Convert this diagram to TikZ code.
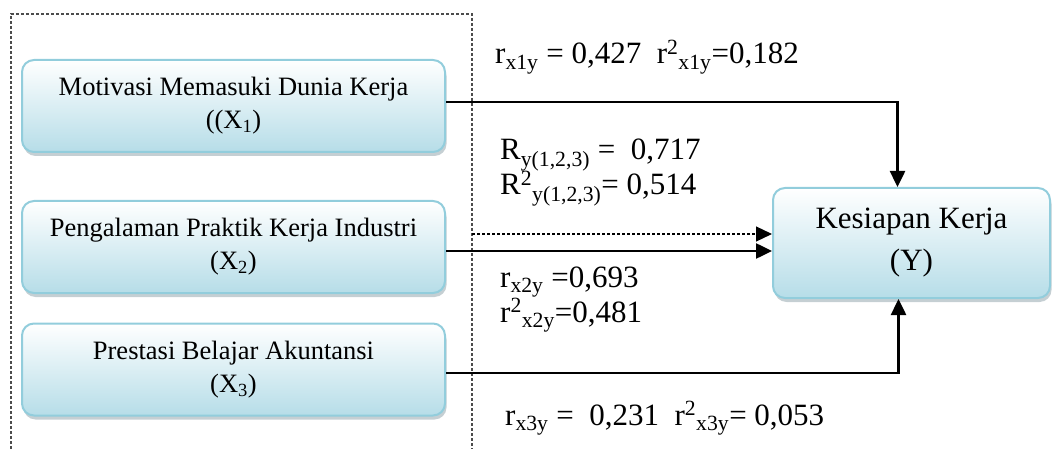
\documentclass[tikz,border=0pt]{standalone}
\usepackage{fontspec}
\setmainfont{Liberation Serif}
\usetikzlibrary{arrows.meta,shadows}
\definecolor{boxedge}{RGB}{146,205,220}
\definecolor{boxfill}{RGB}{182,221,232}
\definecolor{boxshade}{RGB}{140,160,168}

\begin{document}
\begin{tikzpicture}[
            x=1pt, y=-1pt,
            box/.style={draw=boxedge, line width=2pt, rounded corners=12pt,
                top color=white, bottom color=boxfill,
                drop shadow={shadow xshift=1.5pt, shadow yshift=-4pt, fill=boxshade},
                align=center},
            xbox/.style={box, minimum width=423pt, minimum height=92pt,
                font=\fontsize{26.5}{33}\selectfont},
            ybox/.style={box, minimum width=277pt, minimum height=110pt,
                font=\fontsize{31}{42}\selectfont},
            coef/.style={anchor=base west, inner sep=0pt, font=\fontsize{31}{36}\selectfont},
            frame/.style={draw=black!70, line width=1.2pt, dash pattern=on 3pt off 2pt},
            link/.style={->, line width=2.5pt},
            >={Triangle[length=16pt, width=15pt]}
        ]
        \useasboundingbox (0,0) rectangle (1052,449);

        % dashed frame round the three predictors
        \draw[frame] (11,449) -- (11,14) -- (472,14) -- (472,449);
        \coordinate (fx) at (472,234);

        \node[xbox] (x1) at (233.5,106) {Motivasi Memasuki Dunia Kerja\\((X\textsubscript{1})};
        \node[xbox] (x2) at (233.5,247) {Pengalaman Praktik Kerja Industri\\(X\textsubscript{2})};
        \node[xbox] (x3) at (233.5,369.5) {Prestasi Belajar Akuntansi\\(X\textsubscript{3})};
        \node[ybox] (y) at (911.5,243) {Kesiapan Kerja\\(Y)};

        \draw[link] ([yshift=4pt]x1.east) -| ([xshift=-14pt]y.north);
        \draw[link] ([yshift=-4pt]x2.east) -- ([yshift=-4pt]x2.east -| y.west);
        \draw[link] ([yshift=-3.5pt]x3.east) -| ([xshift=-13pt]y.south);
        \draw[link, line width=1.2pt, dash pattern=on 3pt off 2pt] (fx) -- (fx -| y.west);

        % coefficients
        \node[coef] (r1) at (495,64) {r\textsubscript{x1y} = 0,427\ \ r\textsuperscript{2}\textsubscript{x1y}=0,182};
        \node[coef] (R) at (500,160) {R\textsubscript{y(1,2,3)} =\ \ 0,717};
        \node[coef] (Rsq) at (500,195) {R\textsuperscript{2}\textsubscript{y(1,2,3)}= 0,514};
        \node[coef] (r2) at (500,287) {r\textsubscript{x2y} =0,693};
        \node[coef] (r2sq) at (500,322) {r\textsuperscript{2}\textsubscript{x2y}=0,481};
        \node[coef] (r3) at (505,425) {r\textsubscript{x3y} =\ \ 0,231\ \ r\textsuperscript{2}\textsubscript{x3y}= 0,053};
    \end{tikzpicture}
\end{document}
